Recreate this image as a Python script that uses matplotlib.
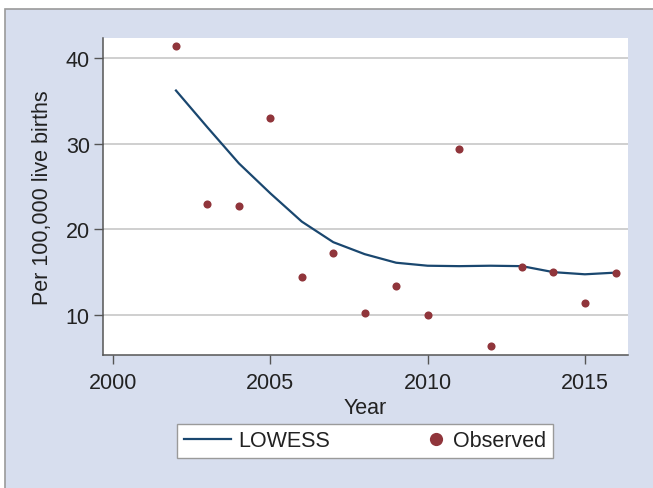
import matplotlib
matplotlib.use("Agg")
import matplotlib.pyplot as plt
from matplotlib.patches import Rectangle
from matplotlib.lines import Line2D
from matplotlib.legend_handler import HandlerBase

years = [2002, 2003, 2004, 2005, 2006, 2007, 2008, 2009, 2010, 2011, 2012, 2013, 2014, 2015, 2016]
observed = [41.4, 22.9, 22.7, 33.0, 14.4, 17.2, 10.2, 13.4, 10.0, 29.4, 6.4, 15.6, 15.0, 11.4, 14.9]
lowess = [36.2, 31.9, 27.7, 24.2, 20.9, 18.5, 17.1, 16.1, 15.75, 15.7, 15.75, 15.7, 15.0, 14.75, 14.95]
xticks = [2000, 2005, 2010, 2015]
yticks = [10, 20, 30, 40]

NAVY = "#1a476f"
MAROON = "#90353b"
BG = "#d7deee"
TXT = "#222222"
AX = "#555555"
FS = 15.5

plt.rcParams['font.family'] = ['Liberation Sans', 'DejaVu Sans']
plt.rcParams['font.size'] = FS

fig = plt.figure(figsize=(6.53, 4.89), dpi=100, facecolor="white")
fig.patches.append(Rectangle((4.5 / 653, -0.05), 1.2, 1.05 - 9.5 / 489,
                             transform=fig.transFigure, facecolor=BG,
                             edgecolor="#9a9a9a", linewidth=1.2, zorder=-10))

ax = fig.add_axes([103 / 653, 1 - 356 / 489, (628 - 103) / 653, (356 - 39) / 489])
ax.set_zorder(1)
ax.set_facecolor("white")
ax.set_xlim(1999.68, 2016.37)
ax.set_ylim(5.33, 42.33)

for y in yticks:
    ax.axhline(y, color="#c2c2c2", lw=1.1, zorder=1)

ax.plot(years, lowess, color=NAVY, lw=1.6, zorder=3, solid_joinstyle="round")
ax.scatter(years, observed, s=34, color=MAROON, zorder=4, linewidths=0)

for s in ["top", "right"]:
    ax.spines[s].set_visible(False)
for s in ["left", "bottom"]:
    ax.spines[s].set_color(AX)
    ax.spines[s].set_linewidth(1.1)

ax.set_xticks(xticks)
ax.set_yticks(yticks)
ax.tick_params(axis="both", direction="out", length=6.5, width=1.0, color=AX,
               labelcolor=TXT, labelsize=FS)
ax.tick_params(axis="x", pad=5.5)
ax.tick_params(axis="y", pad=3)
ax.set_xlabel("Year", color=TXT, fontsize=FS, labelpad=3)
ax.set_ylabel("Per 100,000 live births", color=TXT, fontsize=FS, labelpad=9)


class MarkerRight(HandlerBase):
    def create_artists(self, legend, orig_handle, xdescent, ydescent, width,
                       height, fontsize, trans):
        ln = Line2D([width - 7 - xdescent], [height / 2 - ydescent], marker="o",
                    ls="none", color=MAROON, markersize=9.5, markeredgewidth=0)
        ln.set_transform(trans)
        return [ln]


h_line = Line2D([], [], color=NAVY, lw=1.6)
h_pt = Line2D([], [], marker="o", ls="none", color=MAROON)
leg = fig.legend([h_line, h_pt], ["LOWESS", "Observed"], ncol=2,
                 loc="center", bbox_to_anchor=(365 / 653, 1 - 442 / 489),
                 frameon=True, fancybox=False, edgecolor="#9a9a9a",
                 facecolor="white", framealpha=1, fontsize=FS,
                 handlelength=2.2, handletextpad=0.33, columnspacing=3.2,
                 borderpad=0.3, handler_map={h_pt: MarkerRight()})
leg.get_frame().set_linewidth(1.0)
for t in leg.get_texts():
    t.set_color(TXT)

fig.savefig("out.png", dpi=100, facecolor="white")
